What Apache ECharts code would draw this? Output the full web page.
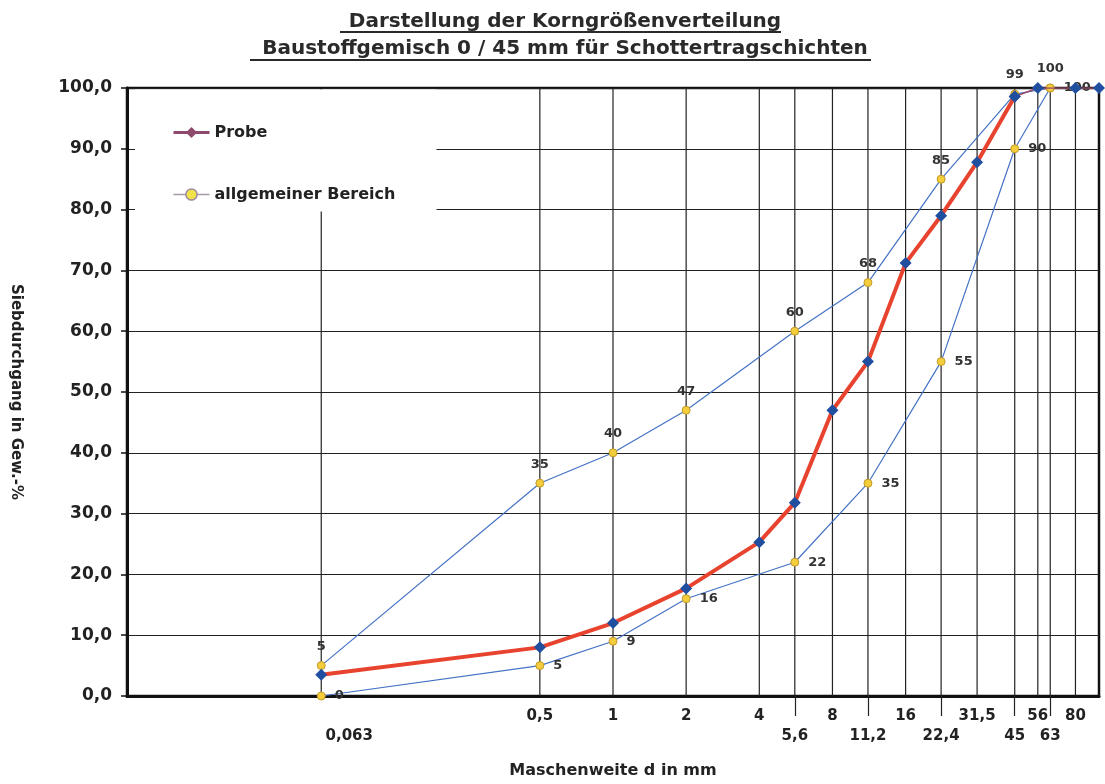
<!DOCTYPE html>
<html><head><meta charset="utf-8">
<script src="https://cdn.jsdelivr.net/npm/echarts@6/dist/echarts.min.js"></script>
<style>html,body{margin:0;padding:0;background:#fff}#c{width:1105px;height:784px}</style>
</head><body><div id="c"></div>
<script>
// ---- data ----
const titleLines = ['Darstellung der Korngrößenverteilung', 'Baustoffgemisch 0 / 45 mm für Schottertragschichten'];
const sieves = [0.063, 0.5, 1, 2, 4, 5.6, 8, 11.2, 16, 22.4, 31.5, 45, 56, 63, 80];
const sieveLabels = ['0,063', '0,5', '1', '2', '4', '5,6', '8', '11,2', '16', '22,4', '31,5', '45', '56', '63', '80'];
const lowerRowSieves = [0.063, 5.6, 11.2, 22.4, 45, 63];
const tickSieves = [5.6, 11.2, 22.4, 45, 63];
const probeX = [0.063, 0.5, 1, 2, 4, 5.6, 8, 11.2, 16, 22.4, 31.5, 45, 56, 80, 100];
const probeY = [3.5, 8, 12, 17.7, 25.3, 31.8, 47, 55, 71.2, 79, 87.8, 98.6, 100, 100, 100];
const probeRedEnd = 11; // index of last point of the red segment (45 mm)
const rangeX = [0.063, 0.5, 1, 2, 5.6, 11.2, 22.4, 45, 63];
const upperY = [5, 35, 40, 47, 60, 68, 85, 99, 100];
const lowerY = [0, 5, 9, 16, 22, 35, 55, 90, 100];
const yMin = 0, yMax = 100, yStep = 10;

// ---- build ----
const FONT = 'DejaVu Sans';
const pairs = (xs, ys) => xs.map((x, i) => [x, ys[i]]);
const probeAll = pairs(probeX, probeY);
const gridData = [];
sieves.forEach(v => { gridData.push([v, yMin], [v, yMax], [v, '-']); });

function sieveLabel(value) {
  let best = 0, d = Infinity;
  sieves.forEach((s, i) => { const dd = Math.abs(Math.log(s) - Math.log(value)); if (dd < d) { d = dd; best = i; } });
  const s = sieves[best];
  const txt = sieveLabels[best];
  if (s === 0.063) return '{f|}\n{o|' + txt + '}';
  if (lowerRowSieves.indexOf(s) >= 0) return '{f|}\n{a|' + txt + '}';
  return '{a|' + txt + '}';
}

const chart = echarts.init(document.getElementById('c'), null, { renderer: 'canvas' });
const labelStyle = { fontFamily: FONT, fontWeight: 'bold', fontSize: 13, color: '#333' };

chart.setOption({
  backgroundColor: '#fff',
  animation: false,
  title: [
    { text: titleLines[0], left: 560, top: 7, textAlign: 'center',
      textStyle: { fontFamily: FONT, fontWeight: 'bold', fontSize: 20, color: '#2a2a2a' } },
    { text: titleLines[1], left: 560, top: 34, textAlign: 'center',
      textStyle: { fontFamily: FONT, fontWeight: 'bold', fontSize: 20, color: '#2a2a2a' } }
  ],
  graphic: [
    { type: 'line', shape: { x1: 340, y1: 32, x2: 781, y2: 32 }, style: { stroke: '#2a2a2a', lineWidth: 2 } },
    { type: 'line', shape: { x1: 250, y1: 60, x2: 871, y2: 60 }, style: { stroke: '#2a2a2a', lineWidth: 2 } }
  ],
  legend: {
    orient: 'vertical', left: 135, top: 89.5,
    padding: [34, 41, 8, 37], itemGap: 44, itemWidth: 36, itemHeight: 14,
    backgroundColor: '#fff', z: 4,
    textStyle: { fontFamily: FONT, fontWeight: 'bold', fontSize: 16, color: '#222', lineHeight: 18 },
    data: [
      { name: 'Probe', itemStyle: { color: '#8e4a6c', borderWidth: 0 }, lineStyle: { color: '#8e4a6c', width: 3 } },
      { name: 'allgemeiner Bereich', itemStyle: { color: '#f2e24a', borderColor: '#9c8aa0', borderWidth: 1.5 }, lineStyle: { color: '#a898ac', width: 1.5 } }
    ]
  },
  grid: { left: 122, right: 6, top: 88, bottom: 86, show: true, borderColor: '#111', borderWidth: 2.5, backgroundColor: 'transparent' },
  xAxis: {
    type: 'log', logBase: 10, min: 0.01, max: 100,
    name: 'Maschenweite d in mm', nameLocation: 'middle', nameGap: 67,
    nameTextStyle: { fontFamily: FONT, fontWeight: 'bold', fontSize: 16, color: '#222' },
    axisLine: { show: true, lineStyle: { color: '#111', width: 3 } },
    axisTick: { show: true, customValues: tickSieves, length: 20, lineStyle: { color: '#222', width: 1.2 } },
    splitLine: { show: false },
    minorTick: { show: false },
    axisLabel: {
      customValues: sieves, margin: 10, formatter: sieveLabel,
      rich: {
        a: { fontFamily: FONT, fontWeight: 'bold', fontSize: 15, color: '#222', lineHeight: 20 },
        o: { fontFamily: FONT, fontWeight: 'bold', fontSize: 15, color: '#222', lineHeight: 20, padding: [0, 0, 0, 56] },
        f: { fontSize: 15, lineHeight: 20 }
      }
    }
  },
  yAxis: {
    type: 'value', min: yMin, max: yMax, interval: yStep,
    name: 'Siebdurchgang in Gew.-%', nameLocation: 'middle', nameRotate: -90, nameGap: 104,
    nameTextStyle: { fontFamily: FONT, fontWeight: 'bold', fontSize: 15, color: '#222' },
    axisLine: { show: true, lineStyle: { color: '#111', width: 3 } },
    axisTick: { show: true, length: 6, lineStyle: { color: '#111', width: 1.5 } },
    splitLine: { show: true, lineStyle: { color: '#222', width: 1.2 } },
    axisLabel: { margin: 15, fontFamily: FONT, fontWeight: 'bold', fontSize: 17, color: '#222',
      formatter: v => v.toFixed(1).replace('.', ',') }
  },
  series: [
    { name: 'grid', type: 'line', data: gridData, z: 1, silent: true, showSymbol: false, symbol: 'none',
      connectNulls: false, lineStyle: { color: '#222', width: 1.2 }, legendHoverLink: false },
    { name: 'allgemeiner Bereich', type: 'line', data: pairs(rangeX, upperY), z: 2,
      symbol: 'circle', symbolSize: 8,
      itemStyle: { color: '#f4cd3c', borderColor: '#c09a2a', borderWidth: 1 },
      lineStyle: { color: '#4472c4', width: 1.2 },
      label: { show: true, position: 'top', distance: 8, ...labelStyle, formatter: p => p.value[1] } },
    { name: 'allgemeiner Bereich', type: 'line', data: pairs(rangeX, lowerY), z: 2,
      symbol: 'circle', symbolSize: 8,
      itemStyle: { color: '#f4cd3c', borderColor: '#c09a2a', borderWidth: 1 },
      lineStyle: { color: '#4472c4', width: 1.2 },
      label: { show: true, position: 'right', distance: 9, ...labelStyle, formatter: p => p.value[1] } },
    { name: 'Probe', type: 'line', data: probeAll.slice(probeRedEnd), z: 3,
      symbol: 'diamond', symbolSize: 12,
      itemStyle: { color: '#1f4f9e' },
      lineStyle: { color: '#9a4a6e', width: 1.5 } },
    { name: 'Probe', type: 'line', data: probeAll.slice(0, probeRedEnd + 1), z: 3,
      symbol: 'diamond', symbolSize: 12,
      itemStyle: { color: '#1f4f9e' },
      lineStyle: { color: '#e8432e', width: 4 } }
  ]
});
</script></body></html>
